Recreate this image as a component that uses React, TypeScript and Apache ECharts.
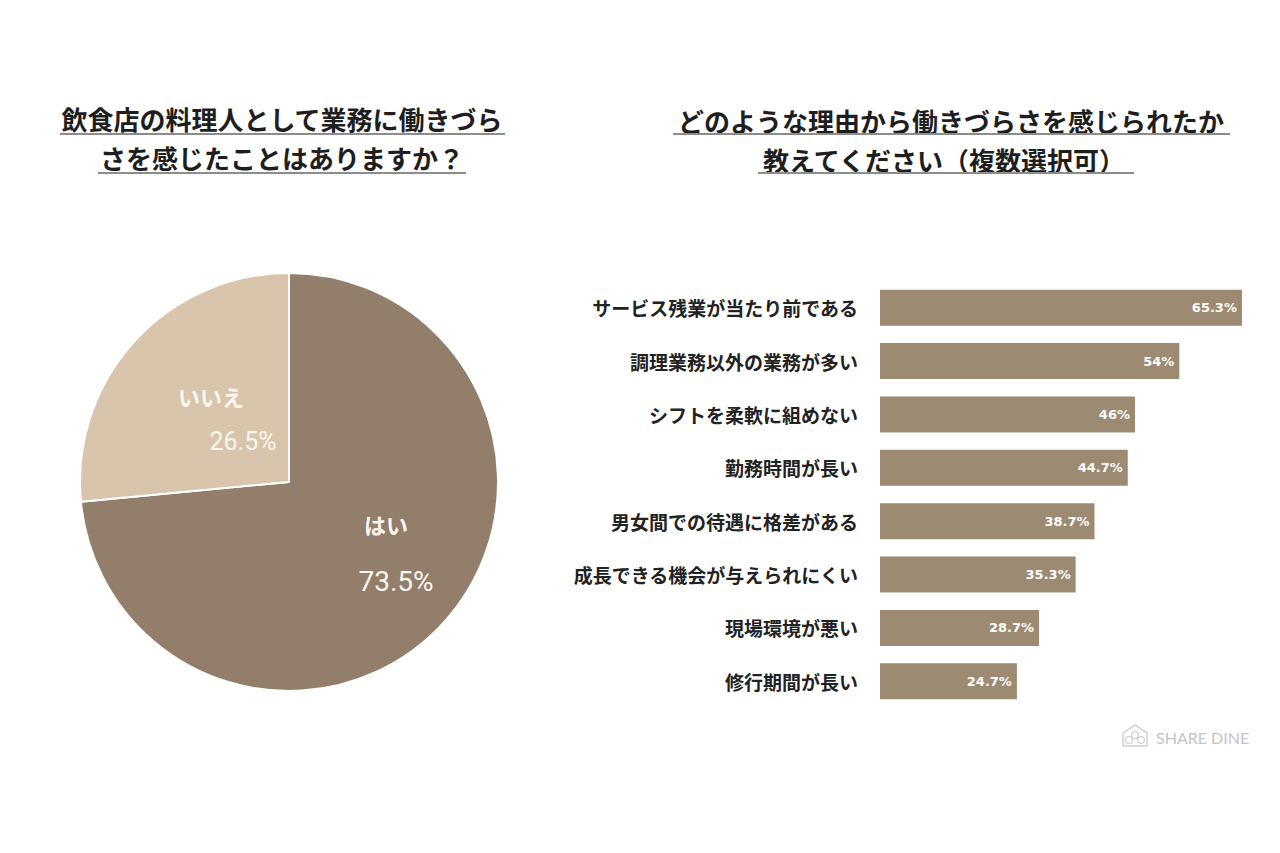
import React, { useEffect, useRef } from "react";
import * as echarts from "echarts";

const pieNames = ["はい", "いいえ"];
const pieValues = [73.5, 26.5];
const pieColors = ["#927e6a", "#d9c5ab"];

const barCategories = [
  "サービス残業が当たり前である",
  "調理業務以外の業務が多い",
  "シフトを柔軟に組めない",
  "勤務時間が長い",
  "男女間での待遇に格差がある",
  "成長できる機会が与えられにくい",
  "現場環境が悪い",
  "修行期間が長い",
];
const barValues = [65.3, 54, 46, 44.7, 38.7, 35.3, 28.7, 24.7];

const leftTitle = ["飲食店の料理人として業務に働きづら", "さを感じたことはありますか？"];
const rightTitle = ["どのような理由から働きづらさを感じられたか", "教えてください（複数選択可）"];

const JP = '"Noto Sans CJK JP", "Noto Sans", sans-serif';

export default function App() {
  const ref = useRef<HTMLDivElement>(null);
  useEffect(() => {
    if (!ref.current) return;
    const chart = echarts.init(ref.current, null, { renderer: "svg" });
    const titleText = (text: string, x: number, y: number) => ({
      type: "text",
      x,
      y,
      style: {
        text,
        fill: "#1e1e1e",
        font: `bold 26px ${JP}`,
        textAlign: "center",
        textVerticalAlign: "middle",
      },
    });
    const uline = (x1: number, x2: number, y: number, color: string, w: number) => ({
      type: "line",
      shape: { x1, y1: y, x2, y2: y },
      style: { stroke: color, lineWidth: w },
    });
    const pieLabel = (text: string, x: number, y: number, font: string) => ({
      type: "text",
      x,
      y,
      z: 100,
      style: {
        text,
        fill: "#fbf7f1",
        font,
        textAlign: "center",
        textVerticalAlign: "middle",
      },
    });
    chart.setOption({
      animation: false,
      backgroundColor: "#ffffff",
      graphic: [
        titleText(leftTitle[0], 282, 118),
        titleText(leftTitle[1], 282, 157),
        uline(60, 505, 134, "#8c8c8c", 2),
        uline(98, 466, 173, "#8c8c8c", 2),
        titleText(rightTitle[0], 951, 120),
        titleText(rightTitle[1], 944, 159),
        uline(673, 1230, 134, "#8c8c8c", 2),
        uline(758, 1134, 173, "#8c8c8c", 2),
        pieLabel(pieNames[1], 211, 396, `bold 22px ${JP}`),
        uline(172, 249, 411, "#f3ebdf", 1.5),
        pieLabel(`${pieValues[1]}%`, 243, 441, `25px Roboto, "Liberation Sans", sans-serif`),
        pieLabel(pieNames[0], 386, 524, `bold 22px ${JP}`),
        uline(362, 411, 539, "#e6ddd1", 1.5),
        pieLabel(`${pieValues[0]}%`, 396, 581, `28px Roboto, "Liberation Sans", sans-serif`),
        {
          type: "polyline",
          shape: { points: [[1123, 733], [1135, 725], [1147, 733], [1147, 746], [1123, 746], [1123, 733]] },
          style: { stroke: "#cfcfcf", lineWidth: 1.5, fill: "none" },
        },
        { type: "circle", shape: { cx: 1129, cy: 740, r: 3.5 }, style: { stroke: "#cfcfcf", lineWidth: 1.3, fill: "none" } },
        { type: "circle", shape: { cx: 1135, cy: 735, r: 3.5 }, style: { stroke: "#cfcfcf", lineWidth: 1.3, fill: "none" } },
        { type: "circle", shape: { cx: 1141, cy: 740, r: 3.5 }, style: { stroke: "#cfcfcf", lineWidth: 1.3, fill: "none" } },
        {
          type: "text",
          x: 1156,
          y: 737,
          style: {
            text: "SHARE DINE",
            fill: "#c4c4c4",
            font: `16px Lato, "Noto Sans", sans-serif`,
            textAlign: "left",
            textVerticalAlign: "middle",
          },
        },
      ],
      grid: { left: 880, top: 281, width: 388, height: 427, containLabel: false },
      xAxis: {
        type: "value",
        min: 0,
        max: 70,
        show: false,
      },
      yAxis: {
        type: "category",
        data: barCategories,
        inverse: true,
        axisLine: { show: false },
        axisTick: { show: false },
        splitLine: { show: false },
        axisLabel: {
          margin: 22,
          color: "#222222",
          fontSize: 19,
          fontWeight: "bold",
          fontFamily: JP,
        },
      },
      series: [
        {
          type: "pie",
          center: [289, 482],
          radius: 209,
          startAngle: 90,
          clockwise: true,
          label: { show: false },
          labelLine: { show: false },
          itemStyle: { borderColor: "#ffffff", borderWidth: 2 },
          data: pieNames.map((n, i) => ({ name: n, value: pieValues[i], itemStyle: { color: pieColors[i] } })),
        },
        {
          type: "bar",
          data: barValues,
          barWidth: 36,
          itemStyle: { color: "#9d8a72" },
          label: {
            show: true,
            position: "insideRight",
            distance: 5,
            formatter: "{c}%",
            color: "#ffffff",
            fontSize: 13,
            fontWeight: "bold",
            fontFamily: '"DejaVu Sans", sans-serif',
          },
        },
      ],
    });
    return () => chart.dispose();
  }, []);
  return <div ref={ref} style={{ position: "fixed", left: 0, top: 0, width: 1280, height: 853 }} />;
}
